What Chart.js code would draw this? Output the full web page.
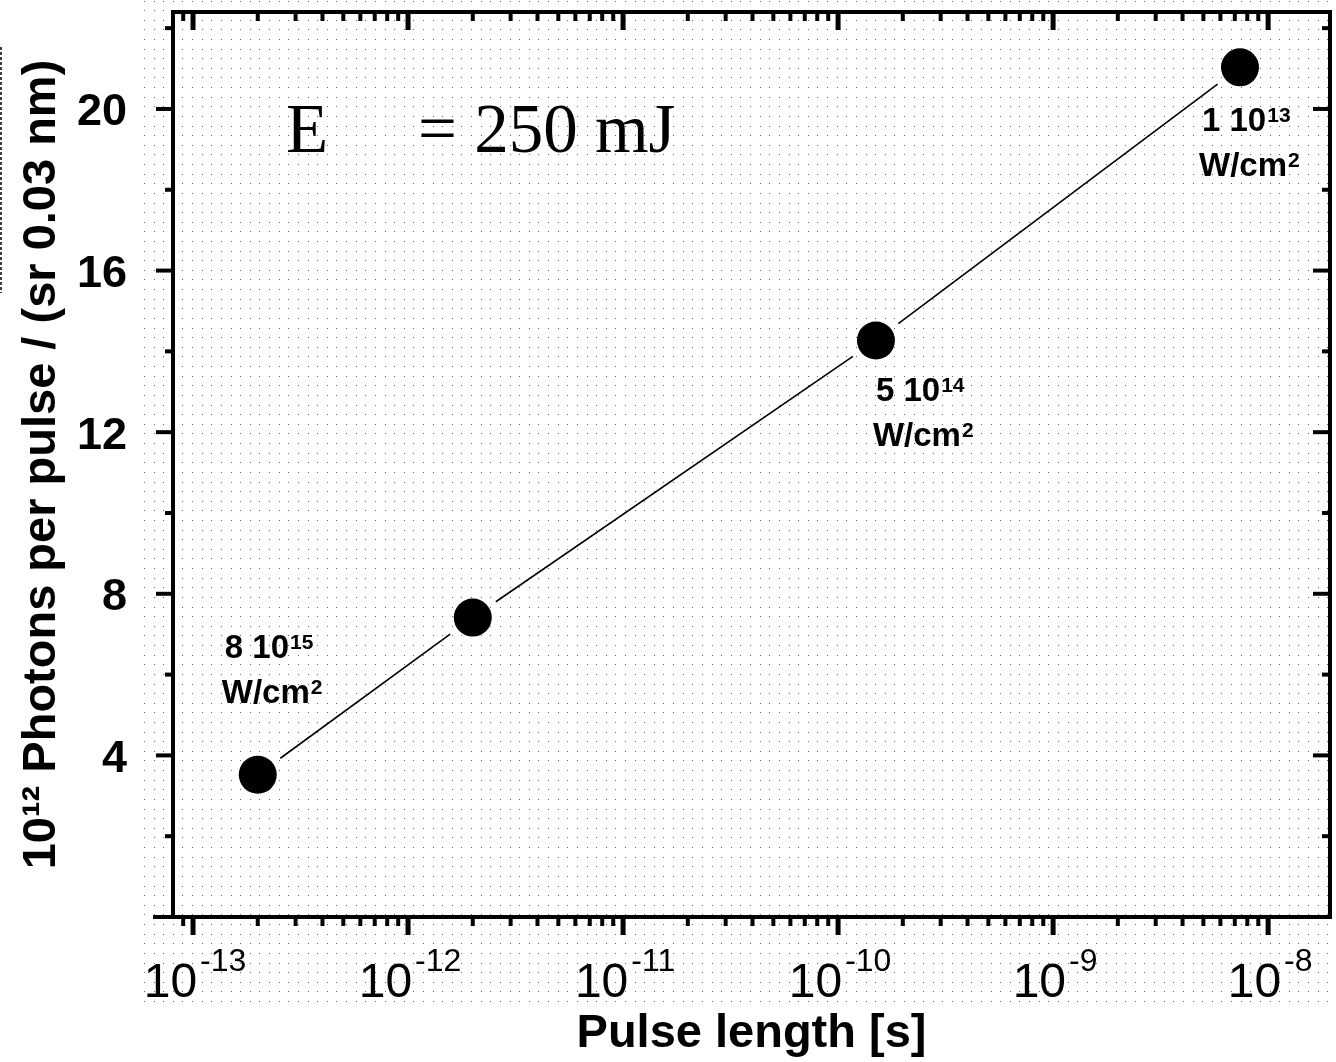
<!DOCTYPE html>
<html>
<head>
<meta charset="utf-8">
<script src="https://cdn.jsdelivr.net/npm/chart.js@4"></script>
<style>
  html, body { margin: 0; padding: 0; background: #fff; }
  canvas { display: block; }
</style>
</head>
<body>
<canvas id="pulseChart" width="1336" height="1062"></canvas>
<script>
// data
const pulseLength = [2.0e-13, 2.0e-12, 1.5e-10, 7.4e-9];   // s
const photons = [3.52, 7.41, 14.27, 21.03];                // 10^12 photons
const intensityMantissa = ['8', null, '5', '1'];           // W/cm2 labels
const intensityExponent = ['15', null, '14', '13'];
const xTickExponents = [-13, -12, -11, -10, -9, -8];
const yTickLabels = [4, 8, 12, 16, 20];

const SANS = '"Liberation Sans", Arial, sans-serif';
const SERIF = '"Liberation Serif", "Times New Roman", serif';

// where the intensity labels sit relative to their point (px)
const labelOffset = [[-33, -117], null, [0, 61], [-38, 64]];

function seg(ctx, x1, y1, x2, y2) {
  ctx.beginPath();
  ctx.moveTo(x1, y1);
  ctx.lineTo(x2, y2);
  ctx.stroke();
}

function supText(ctx, x, y, lead, exp, size, supSize, rise) {
  ctx.font = 'bold ' + size + 'px ' + SANS;
  ctx.fillText(lead, x, y);
  const w = ctx.measureText(lead).width;
  ctx.font = 'bold ' + supSize + 'px ' + SANS;
  ctx.fillText(exp, x + w + 1, y - rise);
}

function noPad(s) {
  s.paddingTop = 0;
  s.paddingBottom = 0;
  s.paddingLeft = 0;
  s.paddingRight = 0;
}

const paper = {
  id: 'paper',
  beforeDraw(chart) {
    const ctx = chart.ctx;
    ctx.save();
    ctx.fillStyle = '#fff';
    ctx.fillRect(0, 0, chart.width, chart.height);
    // dotted paper
    ctx.fillStyle = 'rgba(0,0,0,0.6)';
    for (let y = 0.5; y < 1006; y += 9.62) {
      for (let x = 144; x < 1336; x += 9.62) {
        ctx.fillRect(Math.round(x), Math.round(y), 1, 1);
      }
    }
    // stray dashed edge at far left
    ctx.strokeStyle = '#000';
    ctx.lineWidth = 1.5;
    ctx.setLineDash([3, 2]);
    seg(ctx, 1, 47, 1, 293);
    ctx.setLineDash([]);
    ctx.restore();
  },
  beforeDatasetsDraw(chart) {
    // straight segments between points, stopping short of the markers
    const ctx = chart.ctx;
    const pts = chart.getDatasetMeta(0).data;
    const gap = 28;
    ctx.save();
    ctx.strokeStyle = '#000';
    ctx.lineWidth = 1.6;
    for (let i = 0; i < pts.length - 1; i++) {
      const p = pts[i], q = pts[i + 1];
      const d = Math.hypot(q.x - p.x, q.y - p.y);
      const ux = (q.x - p.x) / d, uy = (q.y - p.y) / d;
      seg(ctx, p.x + ux * gap, p.y + uy * gap, q.x - ux * gap, q.y - uy * gap);
    }
    ctx.restore();
  },
  afterDraw(chart) {
    const ctx = chart.ctx;
    const a = chart.chartArea;
    const xs = chart.scales.x, ys = chart.scales.y;
    ctx.save();
    ctx.strokeStyle = '#000';
    ctx.fillStyle = '#000';

    // frame
    ctx.lineWidth = 4;
    ctx.strokeRect(a.left, a.top, a.right - a.left, a.bottom - a.top);
    seg(ctx, 153, a.bottom, a.left, a.bottom);

    // log x ticks, bottom outward, top inward
    for (let e = -14; e <= -8; e++) {
      for (let m = 1; m <= 9; m++) {
        const v = m * Math.pow(10, e);
        if (v < xs.min || v > xs.max) continue;
        const px = xs.getPixelForValue(v);
        const L = m === 1 ? 18 : 9;
        ctx.lineWidth = m === 1 ? 5 : 4;
        seg(ctx, px, a.bottom, px, a.bottom + L);
        seg(ctx, px, a.top, px, a.top + L);
      }
    }
    // y ticks, left outward, right inward
    for (let v = 2; v <= 22; v += 2) {
      const py = ys.getPixelForValue(v);
      const L = v % 4 === 0 ? 17 : 8;
      ctx.lineWidth = 4;
      seg(ctx, a.left - L, py, a.left, py);
      seg(ctx, a.right - L, py, a.right, py);
    }

    // x tick labels 10^n
    ctx.textBaseline = 'alphabetic';
    ctx.textAlign = 'left';
    xTickExponents.forEach(e => {
      const px = xs.getPixelForValue(Math.pow(10, e));
      ctx.font = '48px ' + SANS;
      const w1 = ctx.measureText('10').width;
      ctx.font = '32px ' + SANS;
      const w2 = ctx.measureText(String(e)).width;
      const x0 = px + 2 - (w1 + 3 + w2) / 2;
      ctx.font = '48px ' + SANS;
      ctx.fillText('10', x0, 997);
      ctx.font = '32px ' + SANS;
      ctx.fillText(String(e), x0 + w1 + 3, 971);
    });

    // intensity labels
    const pts = chart.getDatasetMeta(0).data;
    intensityMantissa.forEach((mant, i) => {
      if (mant === null) return;
      const [dx, dy] = labelOffset[i];
      const x = pts[i].x + dx, y = pts[i].y + dy;
      supText(ctx, x, y, mant + ' 10', intensityExponent[i], 33, 21, 9);
      supText(ctx, x - 3, y + 45, 'W/cm', '2', 33, 21, 9);
    });

    // pulse energy
    ctx.font = '69px ' + SERIF;
    ctx.fillText('E', 286, 152);
    ctx.fillText('= 250 mJ', 418, 152);
    ctx.restore();
  }
};

new Chart(document.getElementById('pulseChart'), {
  type: 'scatter',
  data: {
    datasets: [{
      data: pulseLength.map((x, i) => ({ x: x, y: photons[i] })),
      pointRadius: 19,
      pointHoverRadius: 19,
      backgroundColor: '#000',
      borderColor: '#000',
      borderWidth: 0,
      showLine: false
    }]
  },
  options: {
    responsive: false,
    animation: false,
    events: [],
    layout: { autoPadding: false, padding: { top: 12, right: 6, left: 0, bottom: 0 } },
    plugins: { legend: { display: false }, tooltip: { enabled: false } },
    scales: {
      x: {
        type: 'logarithmic',
        min: 8.07e-14,
        max: 1.94e-8,
        grid: { display: false, drawTicks: false },
        border: { display: false },
        ticks: { display: false },
        title: {
          display: true,
          text: 'Pulse length [s]',
          color: '#000',
          font: { family: SANS, size: 47, weight: 'bold', lineHeight: 1.2 },
          padding: { top: 0, bottom: 0 }
        },
        afterFit(s) { s.height = 145; noPad(s); }
      },
      y: {
        min: 0,
        max: 22.4,
        grid: { display: false, drawTicks: false },
        border: { display: false },
        ticks: {
          stepSize: 4,
          padding: 46,
          labelOffset: 4,
          color: '#000',
          font: { family: SANS, size: 45, weight: 'bold' },
          callback: v => yTickLabels.includes(v) ? String(v) : ''
        },
        title: {
          display: true,
          text: '10¹² Photons per pulse / (sr 0.03 nm)',
          color: '#000',
          font: { family: SANS, size: 47, weight: 'bold', lineHeight: 1.2 },
          padding: { top: 14, bottom: 0 }
        },
        afterFit(s) { s.width = 173; noPad(s); }
      }
    }
  },
  plugins: [paper]
});
</script>
</body>
</html>
